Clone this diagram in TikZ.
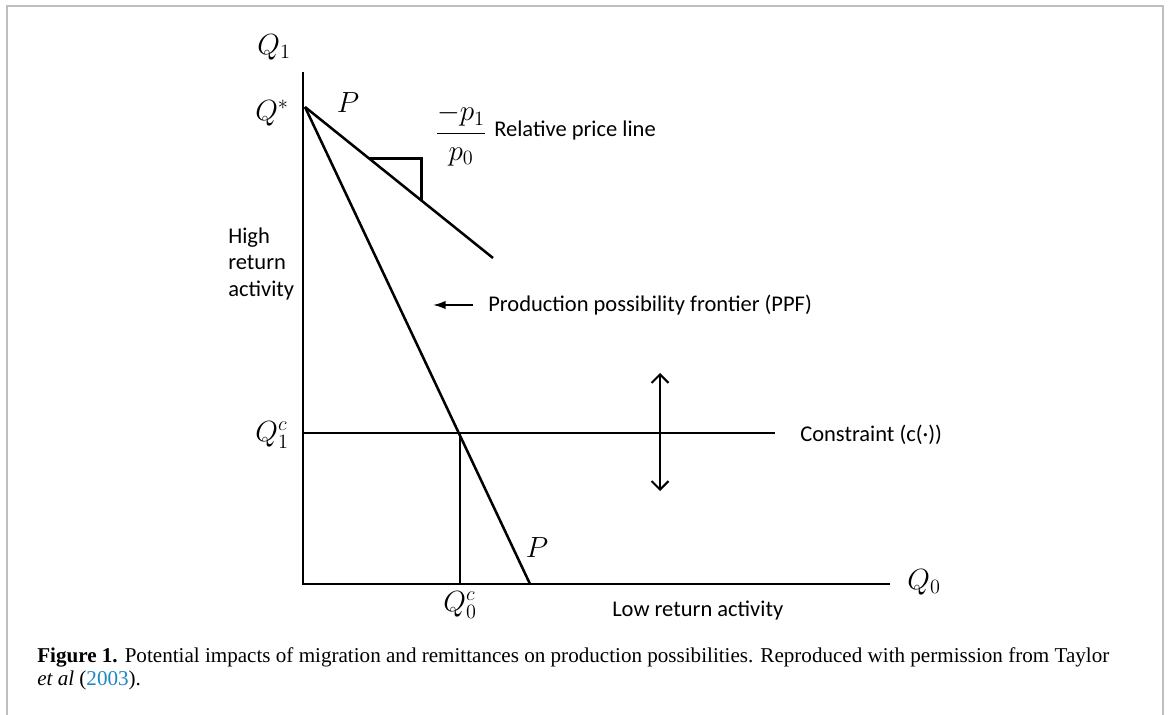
\documentclass[tikz,border=0pt]{standalone}
\usepackage{fontspec}
\setmainfont{Liberation Serif}
\newfontfamily\labelfont{Carlito}
\usetikzlibrary{arrows.meta,calc}
\definecolor{citeblue}{RGB}{30,135,195}
\definecolor{framegray}{RGB}{190,190,190}

\begin{document}
\begin{tikzpicture}[x=0.025cm,y=-0.025cm]
    \tikzstyle{curve} = [line width=1.8pt]
    \tikzstyle{lbl} = [font=\labelfont\fontsize{16}{19}\selectfont, inner sep=0pt]
    \tikzstyle{sym} = [font=\fontsize{20}{23}\selectfont, inner sep=0pt]
    \tikzstyle{capt} = [font=\fontsize{15}{18}\selectfont, anchor=base west, inner sep=0pt]

    \useasboundingbox (0,0) rectangle (1170,715);
    \draw[framegray, line width=0.8pt] (7,715) -- (7,6) -- (1163,6) -- (1163,715);

    % axes and lines
    \coordinate (O) at (303,584);
    \coordinate (ytop) at (303,72);
    \coordinate (xend) at (890,584);
    \coordinate (Qstar) at (305,107);
    \coordinate (rpend) at (493,258);
    \coordinate (ppfend) at (530,584);
    \coordinate (Qc1) at (303,433);
    \coordinate (cend) at (775,433);
    \coordinate (Qc0) at (460,584);

    \draw[curve] (ytop) -- (O) -- (xend);
    \draw[curve] (Qstar) -- (rpend);
    \draw[curve] (Qstar) -- (ppfend);
    \draw[curve] (Qc1) -- (cend);
    \draw[curve] (Qc0) -- (Qc0 |- Qc1);

    % slope marker
    \coordinate (sa) at ($(Qstar)!0.34!(rpend)$);
    \coordinate (sb) at ($(Qstar)!0.62!(rpend)$);
    \draw[curve] (sa) -- (sa -| sb) -- (sb);

    % symbols
    \node[sym] (qone) at (274,47) {$Q_1$};
    \node[sym] (qstarlbl) at (272,113) {$Q^{*}$};
    \node[sym] (ptop) at (348,103) {$P$};
    \node[sym] (qconelbl) at (272,435) {$Q_1^c$};
    \node[sym] (qczerolbl) at (460,605) {$Q_0^c$};
    \node[sym] (pbot) at (537,548) {$P$};
    \node[sym] (qzero) at (924,582) {$Q_0$};
    \node[sym, font=\fontsize{22}{25}\selectfont] (slope) at (461,135) {$\displaystyle\frac{-p_1}{p_0}$};

    % texts
    \node[lbl, anchor=west] (rpl) at (494,131) {Relative price line};
    \node[lbl, anchor=west] (ppflbl) at (488,305) {Production possibility frontier (PPF)};
    \node[lbl, anchor=west] (conlbl) at (800,435) {Constraint (c(·))};
    \node[lbl, anchor=west, align=left] (high) at (228,264) {High\\return\\activity};
    \node[lbl, anchor=west] (low) at (612,611) {Low return activity};

    % arrows
    \coordinate (ppftail) at (473,305);
    \coordinate (ppfhead) at (433,305);
    \draw[-{Latex[length=9pt,width=6pt]}, line width=1.3pt] (ppftail) -- (ppfhead);
    \coordinate (shiftup) at (660,373);
    \coordinate (shiftdn) at (660,491);
    \draw[{Straight Barb[length=6pt,width=12pt]}-{Straight Barb[length=6pt,width=12pt]}, line width=1.5pt] (shiftup) -- (shiftdn);

    % caption
    \node[capt] (capone) at (37,662) {\textbf{Figure 1.} Potential impacts of migration and remittances on production possibilities. Reproduced with permission from Taylor};
    \node[capt] (captwo) at (37,685) {\textit{et al} (\textcolor{citeblue}{2003}).};
\end{tikzpicture}
\end{document}
